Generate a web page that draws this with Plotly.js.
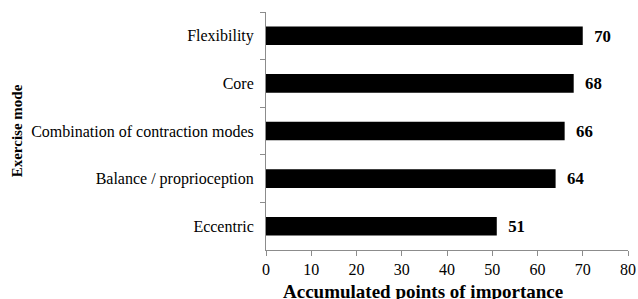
<!DOCTYPE html>
<html>
<head>
<meta charset="utf-8">
<script src="https://cdn.plot.ly/plotly-3.0.1.min.js"></script>
<style>html,body{margin:0;padding:0;background:#fff;}#chart{width:638px;height:299px;}</style>
</head>
<body>
<div id="chart"></div>
<script>
const categories = ["Flexibility", "Core", "Combination of contraction modes", "Balance / proprioception", "Eccentric"];
const values = [70, 68, 66, 64, 51];
const xTicks = [0, 10, 20, 30, 40, 50, 60, 70, 80];
const xTitle = "Accumulated points of importance";
const yTitle = "Exercise mode";

const serif = "Liberation Serif";
const trace = {
  type: "bar",
  orientation: "h",
  y: categories,
  x: values,
  marker: {color: "#000000", line: {width: 0}},
  text: values.map(v => "\u00a0\u00a0" + v),
  textposition: "outside",
  cliponaxis: false,
  textfont: {family: serif, size: 19, color: "#000", weight: "bold"},
  hoverinfo: "none"
};
const layout = {
  width: 638, height: 299,
  margin: {l: 266, r: 10, t: 12, b: 49},
  paper_bgcolor: "#fff", plot_bgcolor: "#fff",
  showlegend: false,
  bargap: 0.61,
  font: {family: serif, size: 15, color: "#000"},
  xaxis: {
    range: [0, 80], tickvals: xTicks, ticktext: xTicks.map(String),
    showgrid: false, zeroline: false, showline: true, linecolor: "#8c8c8c", linewidth: 1,
    ticks: "outside", ticklen: 5, tickcolor: "#8c8c8c",
    tickfont: {family: serif, size: 16, color: "#000"},
    fixedrange: true
  },
  yaxis: {
    autorange: "reversed", type: "category",
    showgrid: false, zeroline: false, showline: true, linecolor: "#8c8c8c", linewidth: 1,
    ticks: "outside", ticklen: 5, tickcolor: "#8c8c8c", tickson: "boundaries",
    tickfont: {family: serif, size: 16, color: "#000"},
    ticklabelstandoff: 8,
    title: {text: yTitle, font: {family: serif, size: 15, color: "#000", weight: "bold"}, standoff: 4},
    fixedrange: true
  },
  annotations: [{
    text: xTitle, xref: "paper", yref: "paper", x: 0.434, y: 0,
    xanchor: "center", yanchor: "middle", yshift: -41, showarrow: false,
    font: {family: serif, size: 19, color: "#000", weight: "bold"}
  }]
};
Plotly.newPlot("chart", [trace], layout, {staticPlot: true, displayModeBar: false});
</script>
</body>
</html>
